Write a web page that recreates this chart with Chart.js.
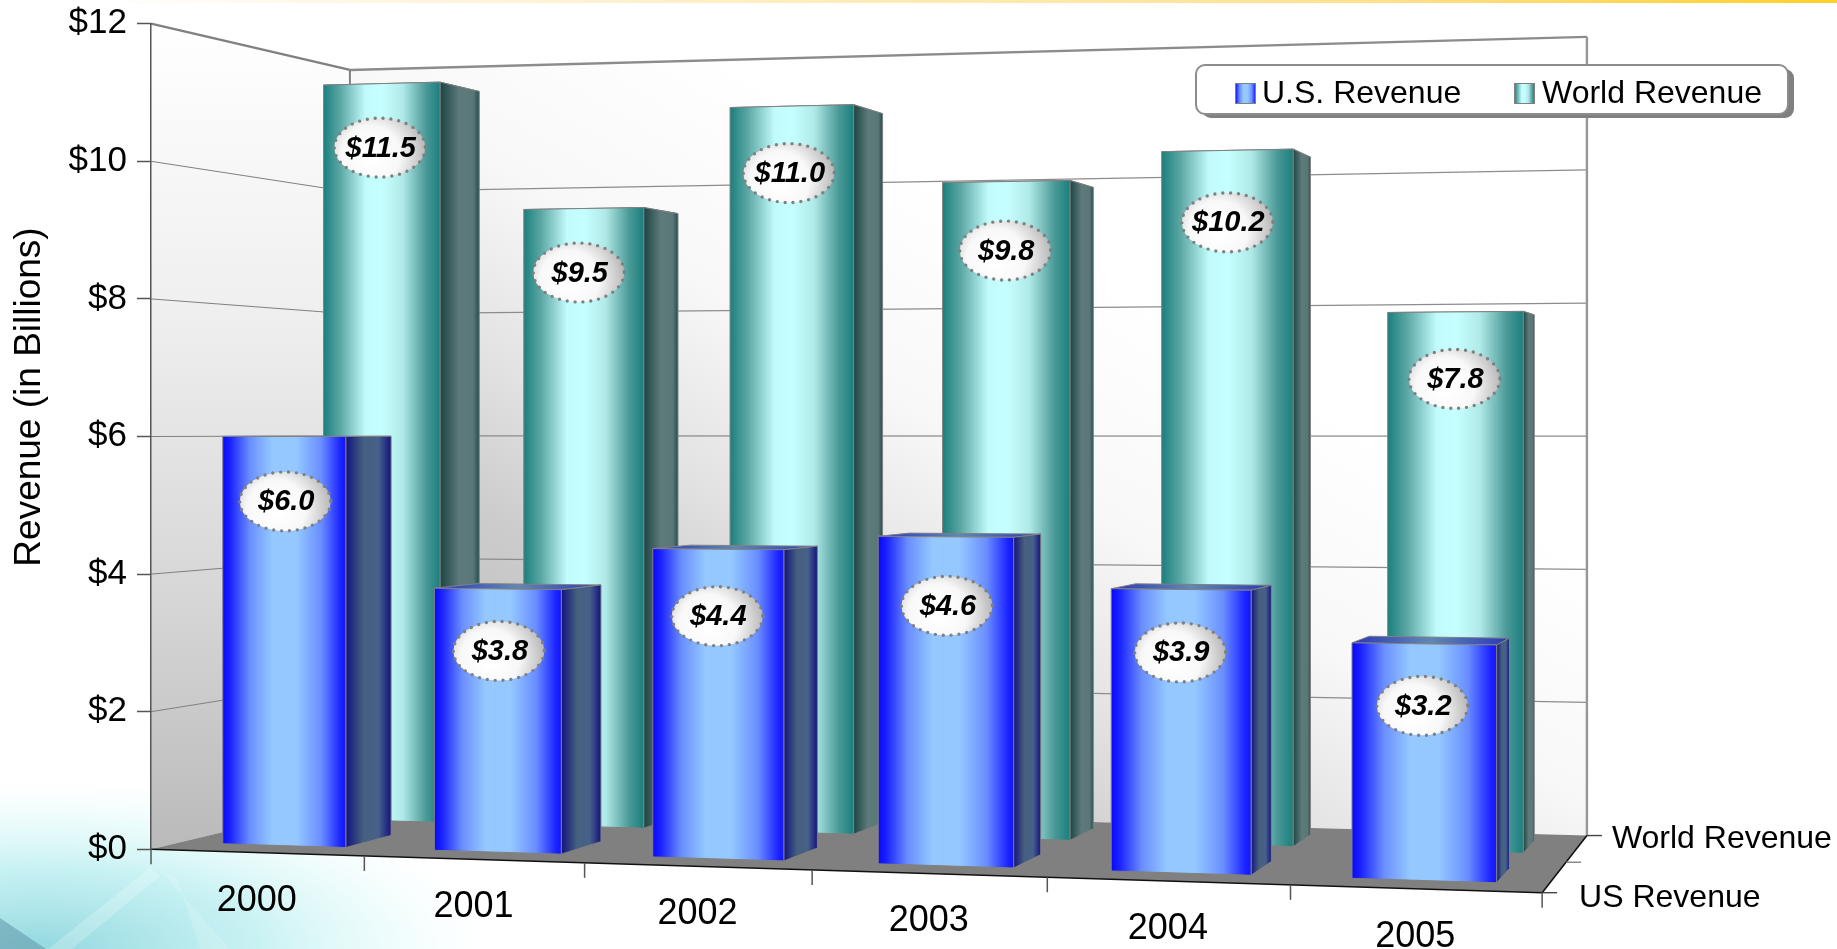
<!DOCTYPE html>
<html>
<head>
<meta charset="utf-8">
<title>Revenue (in Billions)</title>
<style>
  html, body { margin: 0; padding: 0; background: #fff; overflow: hidden; }
  #wrap { position: relative; width: 1837px; height: 949px; }
</style>
<script src="https://cdn.jsdelivr.net/npm/chart.js@4/dist/chart.umd.js"></script>
</head>
<body>
<div id="wrap"><canvas id="revenue" width="1837" height="949"></canvas></div>
<script>
// Chart content
const years = ['2000', '2001', '2002', '2003', '2004', '2005'];
const usRevenue = [6.0, 3.8, 4.4, 4.6, 3.9, 3.2];
const worldRevenue = [11.5, 9.5, 11.0, 9.8, 10.2, 7.8];
const yTickStep = 2;
const yMax = 12;
const yTitle = 'Revenue (in Billions)';
const depthLabels = ['US Revenue', 'World Revenue'];

const FONT = '"Liberation Sans", Arial, sans-serif';

// Perspective box: u runs along the categories, d into the page, v up the value axis.
// Screen position is (numerator / w), a plain homography of the 3D box.
const BOX = {
  x0: 151, xu: 1245.7, xd: 243.7,
  y0: 849.3, yu: -40.8, yd: 55.2, yv: -825.6,
  wu: -0.0943, wd: 0.128
};
function project(u, d, v) {
  const w = 1 + BOX.wu * u + BOX.wd * d;
  return {
    x: (BOX.x0 + BOX.xu * u + BOX.xd * d) / w,
    y: (BOX.y0 + BOX.yu * u + BOX.yd * d + BOX.yv * v) / w
  };
}

// Depth band occupied by each series, indexed like the datasets.
const DEPTH = [[0.13, 0.365], [0.635, 0.865]];

// Hand placement of the value badges relative to each bar's top centre.
const BADGE_SHIFT = [
  [[1, 65], [1, 62], [-1, 67], [1, 69], [-1, 63], [-2, 62]],
  [[-2, 64], [-5, 64], [-3, 67], [-1, 69], [0, 72], [-1, 67]]
];

const FRONT_STOPS = [
  [[0, '#0808ff'], [0.06, '#1a22ff'], [0.22, '#6a8eff'], [0.4, '#94c8ff'], [0.6, '#94c8ff'], [0.8, '#6a8eff'], [0.96, '#1a22ff'], [1, '#1414ff']],
  [[0, '#1a807e'], [0.14, '#5aa6a3'], [0.36, '#c2fbfb'], [0.5, '#c6ffff'], [0.68, '#b0eae8'], [0.88, '#4a9997'], [1, '#1a7f7d']]
];
const SIDE_STOPS = [
  [[0, '#12147e'], [0.4, '#46607f'], [0.72, '#46608a'], [1, '#14147f']],
  [[0, '#1c4444'], [0.5, '#5f7a7a'], [0.85, '#5a7676'], [1, '#1f4f4f']]
];
const TOP_STOPS = [
  [[0, '#2a36b8'], [0.5, '#6088b4'], [1, '#2a36b8']],
  [[0, '#1c4444'], [0.5, '#5f7a7a'], [1, '#1f4f4f']]
];

function hGradient(ctx, x0, x1, stops) {
  const g = ctx.createLinearGradient(x0, 0, x1, 0);
  stops.forEach(s => g.addColorStop(s[0], s[1]));
  return g;
}
function poly(ctx, pts) {
  ctx.beginPath();
  pts.forEach((p, i) => i ? ctx.lineTo(p.x, p.y) : ctx.moveTo(p.x, p.y));
  ctx.closePath();
}
function segment(ctx, a, b, color, width) {
  ctx.strokeStyle = color;
  ctx.lineWidth = width;
  ctx.beginPath();
  ctx.moveTo(a.x, a.y);
  ctx.lineTo(b.x, b.y);
  ctx.stroke();
}
function triangle(ctx, color, pts) {
  ctx.fillStyle = color;
  ctx.beginPath();
  pts.forEach((p, i) => i ? ctx.lineTo(p[0], p[1]) : ctx.moveTo(p[0], p[1]));
  ctx.closePath();
  ctx.fill();
}

function paintBackdrop(ctx) {
  ctx.fillStyle = '#ffffff';
  ctx.fillRect(0, 0, 1837, 949);

  // Amber strip along the top edge
  const strip = ctx.createLinearGradient(100, 0, 1837, 0);
  strip.addColorStop(0, 'rgba(255,255,255,1)');
  strip.addColorStop(0.15, '#fff6e4');
  strip.addColorStop(0.75, '#ffe08a');
  strip.addColorStop(1, '#ffd028');
  ctx.fillStyle = strip;
  ctx.fillRect(0, 0, 1837, 3);

  // Pale teal wash in the lower left corner
  ctx.save();
  ctx.translate(0, 949);
  ctx.scale(1, 0.38);
  const wash = ctx.createRadialGradient(40, 0, 20, 40, 0, 450);
  wash.addColorStop(0, 'rgba(140,215,222,0.9)');
  wash.addColorStop(0.45, 'rgba(178,236,238,0.72)');
  wash.addColorStop(0.75, 'rgba(215,248,248,0.45)');
  wash.addColorStop(1, 'rgba(235,252,252,0)');
  ctx.fillStyle = wash;
  ctx.fillRect(0, -600, 640, 600);
  ctx.restore();

  // Faint facets crossing the wash
  triangle(ctx, 'rgba(255,255,255,0.22)', [[150, 868], [48, 949], [72, 949], [160, 876]]);
  triangle(ctx, 'rgba(255,255,255,0.16)', [[160, 870], [230, 949], [200, 949], [178, 880]]);
  triangle(ctx, 'rgba(95,150,168,0.55)', [[0, 918], [46, 949], [0, 949]]);
}

function paintWalls(ctx, yScale) {
  const top = yMax;
  const v = val => val / top;
  const fl = project(0, 0, 0), ft = project(0, 0, 1);
  const bl = project(0, 1, 0), bt = project(0, 1, 1);
  const rl = project(1, 1, 0), rt = project(1, 1, 1);

  const sideFill = ctx.createLinearGradient(0, ft.y, 0, fl.y);
  sideFill.addColorStop(0, '#ffffff');
  sideFill.addColorStop(0.35, '#efefef');
  sideFill.addColorStop(0.7, '#d6d6d6');
  sideFill.addColorStop(1, '#bababa');
  poly(ctx, [fl, ft, bt, bl]);
  ctx.fillStyle = sideFill;
  ctx.fill();

  const backFill = ctx.createLinearGradient(bl.x, bl.y, bl.x + 420, bl.y - 720);
  backFill.addColorStop(0, '#b4b4b4');
  backFill.addColorStop(0.38, '#cccccc');
  backFill.addColorStop(0.54, '#e2e2e2');
  backFill.addColorStop(0.75, '#f8f8f8');
  backFill.addColorStop(1, '#ffffff');
  poly(ctx, [bl, bt, rt, rl]);
  ctx.fillStyle = backFill;
  ctx.fill();

  // Grid lines run along both walls
  yScale.ticks.forEach(t => {
    if (t.value === 0) return;
    const a = project(0, 0, v(t.value));
    const b = project(0, 1, v(t.value));
    const c = project(1, 1, v(t.value));
    const isTop = t.value === top;
    segment(ctx, a, b, '#808080', isTop ? 2.4 : 1);
    segment(ctx, b, c, '#8c8c8c', isTop ? 2.4 : 1.2);
  });
  segment(ctx, bt, bl, '#808080', 2);
  segment(ctx, rt, rl, '#969696', 2.4);

  // Floor
  const fr = project(1, 0, 0);
  poly(ctx, [fl, bl, rl, fr]);
  ctx.fillStyle = '#808080';
  ctx.fill();
  segment(ctx, fl, fr, '#111111', 1.6);
  segment(ctx, fr, rl, '#111111', 1.6);
}

function paintAxisFurniture(ctx, xScale) {
  // Category ticks and labels follow the slanted front edge of the floor
  for (let k = 0; k <= years.length; k++) {
    const p = project(k / years.length, 0, 0);
    segment(ctx, p, { x: p.x, y: p.y + 15 }, '#555555', 1.5);
  }
  ctx.fillStyle = '#000000';
  ctx.font = '36px ' + FONT;
  ctx.textAlign = 'center';
  ctx.textBaseline = 'middle';
  xScale.getLabels().forEach((label, i) => {
    const p = project((i + 0.5) / years.length, 0, 0);
    ctx.fillText(label, p.x, p.y + 48);
  });

  // Depth axis on the right side of the floor
  [0, 0.5, 1].forEach(d => {
    const p = project(1, d, 0);
    segment(ctx, p, { x: p.x + 15, y: p.y }, d === 0.5 ? '#808080' : '#444444', 1.4);
  });
  ctx.font = '32px ' + FONT;
  ctx.textAlign = 'left';
  depthLabels.forEach((label, i) => {
    const p = project(1, i, 0);
    ctx.fillText(label, p.x + 37 - 12 * i, p.y + 5 - 1 * i);
  });
}

function paintValueAxisTitle(ctx, yScale) {
  ctx.save();
  ctx.translate(30, 397);
  ctx.rotate(-Math.PI / 2);
  ctx.fillStyle = '#000000';
  ctx.font = '37px ' + FONT;
  ctx.textAlign = 'center';
  ctx.textBaseline = 'middle';
  ctx.fillText(yScale.options.title.text, 0, 0);
  ctx.restore();
}

function paintBar(ctx, box, seriesIndex) {
  const { fbl, fbr, ftl, ftr, bbr, btl, btr } = box;

  poly(ctx, [ftl, ftr, btr, btl]);
  ctx.fillStyle = hGradient(ctx, ftl.x, btr.x, TOP_STOPS[seriesIndex]);
  ctx.fill();
  ctx.strokeStyle = '#808080';
  ctx.lineWidth = 1;
  ctx.stroke();

  poly(ctx, [fbr, ftr, btr, bbr]);
  ctx.fillStyle = hGradient(ctx, fbr.x, bbr.x, SIDE_STOPS[seriesIndex]);
  ctx.fill();
  ctx.stroke();

  poly(ctx, [fbl, ftl, ftr, fbr]);
  ctx.fillStyle = hGradient(ctx, fbl.x, fbr.x, FRONT_STOPS[seriesIndex]);
  ctx.fill();
  ctx.stroke();
}

function paintValueBadge(ctx, el, value, shift) {
  const cx = el.x + shift[0];
  const cy = el.y + shift[1];
  const rx = 45.5, ry = 29.5;
  ctx.save();
  const g = ctx.createRadialGradient(cx - rx * 0.2, cy + ry * 0.25, rx * 0.15, cx - rx * 0.2, cy + ry * 0.25, rx * 1.25);
  g.addColorStop(0, '#ffffff');
  g.addColorStop(0.45, '#f8f8f8');
  g.addColorStop(1, '#b4b4b4');
  ctx.beginPath();
  ctx.ellipse(cx, cy, rx, ry, 0, 0, Math.PI * 2);
  ctx.fillStyle = g;
  ctx.fill();
  ctx.setLineDash([0, 7.9]);
  ctx.lineCap = 'round';
  ctx.lineWidth = 3.4;
  ctx.strokeStyle = '#808080';
  ctx.stroke();
  ctx.setLineDash([]);
  ctx.fillStyle = '#000000';
  ctx.font = 'italic bold 29px ' + FONT;
  ctx.textAlign = 'center';
  ctx.textBaseline = 'middle';
  ctx.fillText('$' + value.toFixed(1), cx + 1, cy + 1);
  ctx.restore();
}

function paintLegend(ctx, datasets) {
  const x = 1196, y = 65, w = 592, h = 49, r = 9;
  ctx.save();
  ctx.beginPath();
  ctx.roundRect(x + 6, y + 4, w, h, r);
  ctx.fillStyle = '#808080';
  ctx.fill();
  ctx.beginPath();
  ctx.roundRect(x, y, w, h, r);
  ctx.fillStyle = '#ffffff';
  ctx.fill();
  ctx.strokeStyle = '#8c8c8c';
  ctx.lineWidth = 2;
  ctx.stroke();

  const entries = [[1235, 1262], [1514, 1542]];
  datasets.forEach((ds, i) => {
    const [sx, tx] = entries[i];
    ctx.fillStyle = hGradient(ctx, sx, sx + 21, FRONT_STOPS[i]);
    ctx.fillRect(sx, 83, 21, 21);
    ctx.strokeStyle = '#808080';
    ctx.lineWidth = 1;
    ctx.strokeRect(sx + 0.5, 83.5, 20, 20);
    ctx.fillStyle = '#000000';
    ctx.font = '32px ' + FONT;
    ctx.textAlign = 'left';
    ctx.textBaseline = 'middle';
    ctx.fillText(ds.label, tx, 94);
  });
  ctx.restore();
}

const perspectivePlugin = {
  id: 'perspective',
  // Move each bar element from its flat scale position onto the projected box.
  afterDatasetsUpdate(chart) {
    const area = chart.chartArea;
    const spanX = area.right - area.left;
    const spanY = area.bottom - area.top;
    chart.data.datasets.forEach((ds, di) => {
      const [dF, dB] = DEPTH[di];
      chart.getDatasetMeta(di).data.forEach(el => {
        const uL = (el.x - el.width / 2 - area.left) / spanX;
        const uR = (el.x + el.width / 2 - area.left) / spanX;
        const vT = (area.bottom - el.y) / spanY;
        el.$box = {
          fbl: project(uL, dF, 0), fbr: project(uR, dF, 0),
          ftl: project(uL, dF, vT), ftr: project(uR, dF, vT),
          bbr: project(uR, dB, 0), btl: project(uL, dB, vT), btr: project(uR, dB, vT)
        };
        const b = el.$box;
        el.x = (b.fbl.x + b.fbr.x) / 2;
        el.width = b.fbr.x - b.fbl.x;
        el.y = (b.ftl.y + b.ftr.y) / 2;
        el.base = (b.fbl.y + b.fbr.y) / 2;
        el.height = el.base - el.y;
      });
    });
  },
  beforeDraw(chart) {
    const ctx = chart.ctx;
    ctx.save();
    paintBackdrop(ctx);
    paintWalls(ctx, chart.scales.y);
    paintAxisFurniture(ctx, chart.scales.x);
    paintValueAxisTitle(ctx, chart.scales.y);
    ctx.restore();
  },
  beforeDatasetDraw(chart, args) {
    const ctx = chart.ctx;
    const values = chart.data.datasets[args.index].data;
    ctx.save();
    args.meta.data.forEach(el => paintBar(ctx, el.$box, args.index));
    args.meta.data.forEach((el, i) => paintValueBadge(ctx, el, values[i], BADGE_SHIFT[args.index][i]));
    ctx.restore();
    return false;
  },
  afterDatasetsDraw(chart) {
    paintLegend(chart.ctx, chart.data.datasets);
  }
};

new Chart(document.getElementById('revenue'), {
  type: 'bar',
  data: {
    labels: years,
    datasets: [
      { label: 'U.S. Revenue', data: usRevenue },
      { label: 'World Revenue', data: worldRevenue }
    ]
  },
  options: {
    responsive: false,
    animation: false,
    events: [],
    layout: { autoPadding: false, padding: { top: 23.7, bottom: 949 - 849.3, left: 0, right: 1837 - 1541 } },
    datasets: { bar: { grouped: false, barPercentage: 0.585, categoryPercentage: 1 } },
    plugins: { legend: { display: false }, tooltip: { enabled: false } },
    scales: {
      x: { type: 'category', display: false },
      y: {
        type: 'linear',
        min: 0,
        max: yMax,
        // The axis spans the exact height of the front wall, so label overhang must not shrink it.
        afterFit(scale) {
          scale.width = 151;
          scale.paddingTop = 0;
          scale.paddingBottom = 0;
        },
        title: { display: false, text: yTitle },
        border: { display: true, color: '#555555', width: 1.5 },
        grid: { drawOnChartArea: false, drawTicks: true, tickLength: 14, tickColor: '#555555', tickWidth: 1.5 },
        ticks: {
          stepSize: yTickStep,
          padding: 10,
          color: '#000000',
          font: { family: FONT, size: 35 },
          callback: value => '$' + value
        }
      }
    }
  },
  plugins: [perspectivePlugin]
});
</script>
</body>
</html>
